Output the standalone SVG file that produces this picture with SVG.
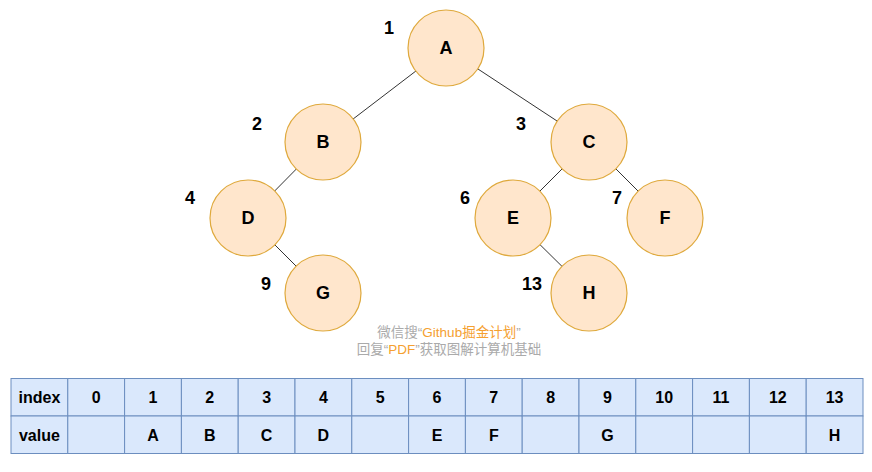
<svg xmlns="http://www.w3.org/2000/svg" width="872" height="472" viewBox="0 0 872 472">
<style>
.n circle{fill:#ffe6cc;stroke:#dfa93c;stroke-width:1.2}
.n text,.lbl{font-family:"Liberation Sans",Arial,sans-serif;font-weight:bold;font-size:18px;fill:#000;text-anchor:middle;dominant-baseline:central}
.edge{stroke:#333;stroke-width:1}
.cell{fill:#dae8fc;stroke:#6c8ebf;stroke-width:1}
.t{font-family:"Liberation Sans",Arial,sans-serif;font-weight:bold;font-size:16px;fill:#000;text-anchor:middle;dominant-baseline:central}
.wm{font-family:"Liberation Sans","Noto Sans CJK SC",sans-serif;font-size:13.5px;fill:#aaaaaa;text-anchor:middle}
.wo{fill:#f5a030}
</style>
<rect width="872" height="472" fill="#fff"/>
<g id="connectors">
<line class="edge" x1="446" y1="48" x2="323" y2="142"/>
<line class="edge" x1="446" y1="48" x2="589" y2="142"/>
<line class="edge" x1="323" y1="142" x2="248" y2="218"/>
<line class="edge" x1="248" y1="218" x2="323" y2="293"/>
<line class="edge" x1="589" y1="142" x2="513" y2="218"/>
<line class="edge" x1="589" y1="142" x2="665" y2="218"/>
<line class="edge" x1="513" y1="218" x2="589" y2="293"/>
</g>
<g id="nodeA" class="n"><circle cx="446" cy="48" r="38"/><text x="446" y="48">A</text></g>
<g id="nodeB" class="n"><circle cx="323" cy="142" r="38"/><text x="323" y="142">B</text></g>
<g id="nodeC" class="n"><circle cx="589" cy="142" r="38"/><text x="589" y="142">C</text></g>
<g id="nodeD" class="n"><circle cx="248" cy="218" r="38"/><text x="248" y="218">D</text></g>
<g id="nodeE" class="n"><circle cx="513" cy="218" r="38"/><text x="513" y="218">E</text></g>
<g id="nodeF" class="n"><circle cx="665" cy="218" r="38"/><text x="665" y="218">F</text></g>
<g id="nodeG" class="n"><circle cx="323" cy="293" r="38"/><text x="323" y="293">G</text></g>
<g id="nodeH" class="n"><circle cx="589" cy="293" r="38"/><text x="589" y="293">H</text></g>
<g id="labels">
<text class="lbl" x="389" y="28">1</text>
<text class="lbl" x="257" y="124">2</text>
<text class="lbl" x="521" y="124">3</text>
<text class="lbl" x="190" y="198">4</text>
<text class="lbl" x="465" y="198">6</text>
<text class="lbl" x="617" y="198">7</text>
<text class="lbl" x="266" y="284">9</text>
<text class="lbl" x="532" y="284">13</text>
</g>
<g id="watermark">
<text class="wm" x="449" y="337">微信搜“<tspan class="wo">Github掘金计划</tspan>”</text>
<text class="wm" x="449" y="354">回复“<tspan class="wo">PDF</tspan>”获取图解计算机基础</text>
</g>
<g id="table">
<rect class="cell" x="11" y="378.5" width="56.8" height="37.5"/>
<rect class="cell" x="11" y="416" width="56.8" height="37.5"/>
<text class="t" x="39.4" y="397.5">index</text>
<text class="t" x="39.4" y="435">value</text>
<g id="cols">
<rect class="cell" x="67.8" y="378.5" width="56.8" height="37.5"/><rect class="cell" x="67.8" y="416" width="56.8" height="37.5"/>
<rect class="cell" x="124.6" y="378.5" width="56.8" height="37.5"/><rect class="cell" x="124.6" y="416" width="56.8" height="37.5"/>
<rect class="cell" x="181.4" y="378.5" width="56.8" height="37.5"/><rect class="cell" x="181.4" y="416" width="56.8" height="37.5"/>
<rect class="cell" x="238.2" y="378.5" width="56.8" height="37.5"/><rect class="cell" x="238.2" y="416" width="56.8" height="37.5"/>
<rect class="cell" x="295" y="378.5" width="56.8" height="37.5"/><rect class="cell" x="295" y="416" width="56.8" height="37.5"/>
<rect class="cell" x="351.8" y="378.5" width="56.8" height="37.5"/><rect class="cell" x="351.8" y="416" width="56.8" height="37.5"/>
<rect class="cell" x="408.6" y="378.5" width="56.8" height="37.5"/><rect class="cell" x="408.6" y="416" width="56.8" height="37.5"/>
<rect class="cell" x="465.4" y="378.5" width="56.8" height="37.5"/><rect class="cell" x="465.4" y="416" width="56.8" height="37.5"/>
<rect class="cell" x="522.2" y="378.5" width="56.8" height="37.5"/><rect class="cell" x="522.2" y="416" width="56.8" height="37.5"/>
<rect class="cell" x="579" y="378.5" width="56.8" height="37.5"/><rect class="cell" x="579" y="416" width="56.8" height="37.5"/>
<rect class="cell" x="635.8" y="378.5" width="56.8" height="37.5"/><rect class="cell" x="635.8" y="416" width="56.8" height="37.5"/>
<rect class="cell" x="692.6" y="378.5" width="56.8" height="37.5"/><rect class="cell" x="692.6" y="416" width="56.8" height="37.5"/>
<rect class="cell" x="749.4" y="378.5" width="56.8" height="37.5"/><rect class="cell" x="749.4" y="416" width="56.8" height="37.5"/>
<rect class="cell" x="806.2" y="378.5" width="56.8" height="37.5"/><rect class="cell" x="806.2" y="416" width="56.8" height="37.5"/>
</g>
<text class="t" x="96.2" y="397.5">0</text>
<text class="t" x="153" y="397.5">1</text>
<text class="t" x="209.8" y="397.5">2</text>
<text class="t" x="266.6" y="397.5">3</text>
<text class="t" x="323.4" y="397.5">4</text>
<text class="t" x="380.2" y="397.5">5</text>
<text class="t" x="437" y="397.5">6</text>
<text class="t" x="493.8" y="397.5">7</text>
<text class="t" x="550.6" y="397.5">8</text>
<text class="t" x="607.4" y="397.5">9</text>
<text class="t" x="664.2" y="397.5">10</text>
<text class="t" x="721" y="397.5">11</text>
<text class="t" x="777.8" y="397.5">12</text>
<text class="t" x="834.6" y="397.5">13</text>
<text class="t" x="153" y="435">A</text>
<text class="t" x="209.8" y="435">B</text>
<text class="t" x="266.6" y="435">C</text>
<text class="t" x="323.4" y="435">D</text>
<text class="t" x="437" y="435">E</text>
<text class="t" x="493.8" y="435">F</text>
<text class="t" x="607.4" y="435">G</text>
<text class="t" x="834.6" y="435">H</text>
</g>
</svg>
